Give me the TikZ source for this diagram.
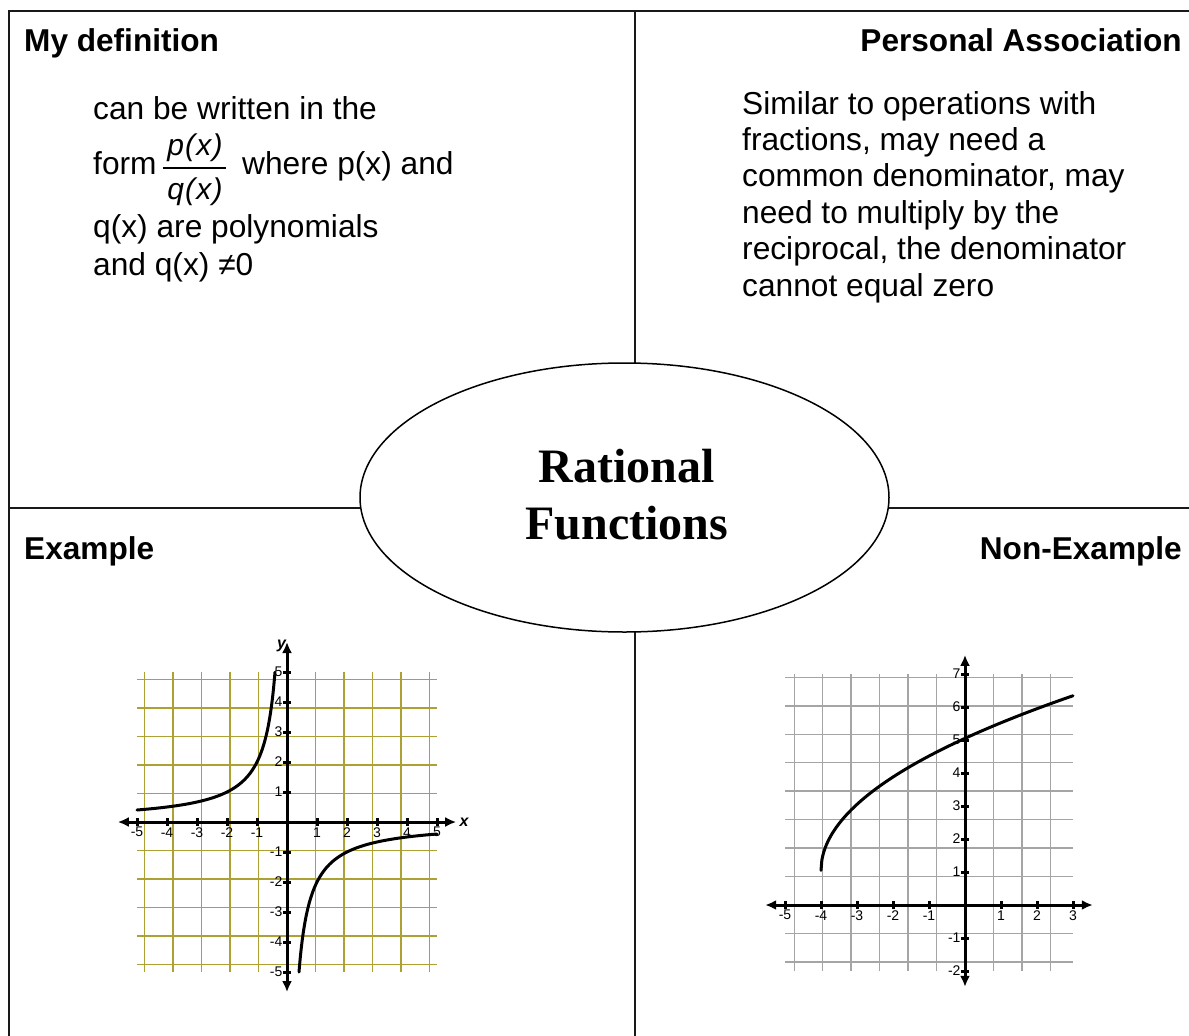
\documentclass[tikz,border=0pt]{standalone}
\usepackage{fontspec}
\setmainfont{Liberation Sans}
\newfontfamily\timesfont{Liberation Serif}
\usetikzlibrary{arrows.meta,shapes.geometric}
\definecolor{olivegrid}{RGB}{172,162,52}
\definecolor{graygrid}{RGB}{165,165,165}
\definecolor{frameline}{RGB}{25,25,25}
\tikzset{
  frame/.style={line width=2pt, draw=frameline},
  heading/.style={font=\fontsize{31.6}{36}\selectfont\bfseries, inner sep=0},
  body/.style={font=\fontsize{31.7}{36.5}\selectfont, inner sep=0, anchor=base west},
  fracpart/.style={font=\fontsize{30}{32}\selectfont\itshape, inner sep=0, anchor=base},
  titletext/.style={font=\fontsize{48}{56}\selectfont\timesfont\bfseries, inner sep=0, anchor=base},
  ticklab/.style={font=\fontsize{14}{14}\selectfont, inner sep=0},
  axislab/.style={font=\fontsize{16}{16}\selectfont\bfseries\itshape, inner sep=0},
  axisline/.style={line width=3pt, {Latex[length=11pt,width=10pt]}-{Latex[length=11pt,width=10pt]}},
  tickmark/.style={line width=3pt},
  curveline/.style={line width=3pt, line cap=round},
}
\newcommand{\fracsp}{\hspace{1.2pt}}
\begin{document}
\begin{tikzpicture}[x=1pt,y=-1pt]
\useasboundingbox[fill=white] (0,0) rectangle (1189,1036);
% frame
\coordinate (fbl) at (9,1036);
\coordinate (ftl) at (9,11);
\coordinate (ftr) at (1189,11);
\coordinate (mtop) at (635,11);
\coordinate (mbot) at (635,1036);
\coordinate (hl) at (9,508);
\coordinate (hr) at (1189,508);
\draw[frame] (fbl) -- (ftl) -- (ftr);
\draw[frame] (mtop) -- (mbot);
\draw[frame] (hl) -- (hr);
% central ellipse
\node[ellipse, draw=black, line width=1.5pt, fill=white, minimum width=529pt, minimum height=269pt, inner sep=0] (centre) at (624.5,497.5) {};
\node[titletext] (t1) at (627,482) {Rational};
\node[titletext] (t2) at (627,539) {Functions};
% headings
\node[heading, anchor=base west] (h1) at (24,51) {My definition};
\node[heading, anchor=base east] (h2) at (1182,51) {Personal Association};
\node[heading, anchor=base west] (h3) at (24,559) {Example};
\node[heading, anchor=base east] (h4) at (1182,559) {Non-Example};
% definition text
\node[body] (d1) at (93,119) {can be written in the};
\node[body] (d2) at (93,174) {form};
\node[fracpart] (fp) at (195,155) {p\fracsp(\fracsp x\fracsp)};
\node[fracpart] (fq) at (195,199) {q\fracsp(\fracsp x\fracsp)};
\coordinate (fbarl) at (163,168);
\coordinate (fbarr) at (226,168);
\draw[line width=1.6pt] (fbarl) -- (fbarr);
\node[body] (d3) at (242,174) {where p(x) and};
\node[body] (d4) at (93,237) {q(x) are polynomials};
\node[body] (d5) at (93,275) {and q(x) ≠0};
% personal association text
\node[body] (p1) at (742,114) {Similar to operations with};
\node[body] (p2) at (742,150.4) {fractions, may need a};
\node[body] (p3) at (742,186.8) {common denominator, may};
\node[body] (p4) at (742,223.2) {need to multiply by the};
\node[body] (p5) at (742,259.6) {reciprocal, the denominator};
\node[body] (p6) at (742,296) {cannot equal zero};
% ---------- graph 1 (example) ----------
\begin{scope}[shift={(287,822)}, x=30pt, y=30pt]
  \draw[olivegrid, line width=1.5pt] (-5,-5) grid (5,5);
  \coordinate (ax1l) at (-5.64,0);
  \coordinate (ax1r) at (5.64,0);
  \coordinate (ay1b) at (0,-5.67);
  \coordinate (ay1t) at (0,6.0);
  \draw[axisline] (ax1l) -- (ax1r);
  \draw[axisline] (ay1b) -- (ay1t);
  \foreach \i in {-5,-4,-3,-2,-1,1,2,3,4,5} {
    \draw[tickmark] (\i,-0.13) -- (\i,0.13);
    \draw[tickmark] (-0.13,\i) -- (0.13,\i);
    \node[ticklab] (gx\i) at (\i,-0.34) {\i};
    \node[ticklab, anchor=east] (gy\i) at (-0.15,\i) {\i};
  }
  \node[axislab] (g1x) at (5.9,0) {x};
  \node[axislab] (g1y) at (-0.18,5.87) {y};
  \draw[curveline, domain=-5:-0.4, samples=120, smooth] plot (\x,{-2/\x});
  \draw[curveline, domain=0.4:5, samples=120, smooth] plot (\x,{-2/\x});
\end{scope}
% ---------- graph 2 (non-example) ----------
\begin{scope}[shift={(965,905)}, x=36pt, y=33pt]
  \draw[graygrid, line width=1.4pt] (-5,-2) grid (3,7);
  \coordinate (ax2l) at (-5.55,0);
  \coordinate (ax2r) at (3.55,0);
  \coordinate (ay2b) at (0,-2.48);
  \coordinate (ay2t) at (0,7.58);
  \draw[axisline] (ax2l) -- (ax2r);
  \draw[axisline] (ay2b) -- (ay2t);
  \foreach \i in {-5,-4,-3,-2,-1,1,2,3} {
    \draw[tickmark] (\i,-0.12) -- (\i,0.12);
    \node[ticklab] (hx\i) at (\i,-0.31) {\i};
  }
  \foreach \j in {-2,-1,1,2,3,4,5,6,7} {
    \draw[tickmark] (-0.11,\j) -- (0.11,\j);
    \node[ticklab, anchor=east] (hy\j) at (-0.12,\j) {\j};
  }
  \draw[curveline, domain=-4:3, samples=300] plot (\x,{2*sqrt(\x+4)+1.05});
\end{scope}
\end{tikzpicture}
\end{document}
